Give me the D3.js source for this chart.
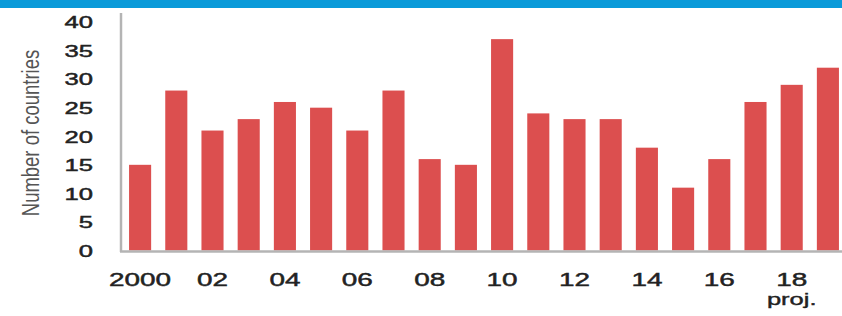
<!DOCTYPE html>
<html>
<head>
<meta charset="utf-8">
<script src="https://cdn.jsdelivr.net/npm/d3@7/dist/d3.min.js"></script>
<style>
  html, body { margin: 0; padding: 0; background: #fff; }
  svg { display: block; }
</style>
</head>
<body>
<svg id="chart" width="842" height="316"></svg>
<script>
const years = ["2000","2001","2002","2003","2004","2005","2006","2007","2008","2009",
               "2010","2011","2012","2013","2014","2015","2016","2017","2018","2019"];
const counts = [15, 28, 21, 23, 26, 25, 21, 28, 16, 15, 37, 24, 23, 23, 18, 11, 16, 26, 29, 32];
const xTickLabels = {"2000":"2000","2002":"02","2004":"04","2006":"06","2008":"08",
                     "2010":"10","2012":"12","2014":"14","2016":"16","2018":"18"};
const yTicks = [0, 5, 10, 15, 20, 25, 30, 35, 40];
const yTitle = "Number of countries";
const projNote = "proj.";

const svg = d3.select("#chart");
const W = 842, H = 316;

// top blue band
svg.append("rect").attr("x", 0).attr("y", 0).attr("width", W).attr("height", 8)
  .attr("fill", "#0a9ad9");

const x = d3.scaleBand().domain(years).range([122, 846])
  .paddingInner(0.39).paddingOuter(0.195);
const y = d3.scaleLinear().domain([0, 40]).range([250.5, 22]);

// bars
svg.append("g").selectAll("rect").data(years).join("rect")
  .attr("x", d => x(d))
  .attr("y", (d, i) => y(counts[i]))
  .attr("width", x.bandwidth())
  .attr("height", (d, i) => y(0) - y(counts[i]))
  .attr("fill", "#dc4f4f");

// axes lines
svg.append("line").attr("x1", 121).attr("x2", 121).attr("y1", 13).attr("y2", 252)
  .attr("stroke", "#b4b4b4").attr("stroke-width", 2.5);
svg.append("line").attr("x1", 120).attr("x2", W).attr("y1", 251.5).attr("y2", 251.5)
  .attr("stroke", "#b4b4b4").attr("stroke-width", 2.5);

const font = "'Liberation Sans', Arial, sans-serif";

// y tick labels (via axis generator, then styled)
const yAxis = d3.axisLeft(y).tickValues(yTicks).tickSize(0).tickPadding(0);
const yg = svg.append("g").attr("transform", "translate(93,0)").call(yAxis);
yg.select(".domain").remove();
yg.selectAll(".tick text")
  .attr("x", 0).attr("dy", "0.36em")
  .attr("text-anchor", "end")
  .attr("transform", "scale(1.6,1)")
  .style("font-family", font).style("font-size", "16px")
  .attr("fill", "#222").attr("stroke", "#222").attr("stroke-width", 0.45);

// x tick labels
const xAxis = d3.axisBottom(x).tickValues(Object.keys(xTickLabels))
  .tickFormat(d => xTickLabels[d]).tickSize(0).tickPadding(0);
const xg = svg.append("g").attr("transform", "translate(0,286)").call(xAxis);
xg.select(".domain").remove();
xg.selectAll(".tick text")
  .attr("y", 0).attr("dy", 0)
  .attr("transform", "scale(1.55,1)")
  .style("font-family", font).style("font-size", "18px")
  .attr("fill", "#222").attr("stroke", "#222").attr("stroke-width", 0.45);

// proj. note
svg.append("text")
  .attr("transform", `translate(${x("2018") + x.bandwidth()/2},305) scale(1.5,1)`)
  .attr("text-anchor", "middle")
  .style("font-family", font).style("font-size", "17px")
  .attr("fill", "#222").attr("stroke", "#222").attr("stroke-width", 0.4)
  .text(projNote);

// y title
svg.append("text")
  .attr("transform", "translate(39,133) scale(1.3,1) rotate(-90)")
  .attr("text-anchor", "middle")
  .style("font-family", font).style("font-size", "18.5px")
  .attr("fill", "#555")
  .text(yTitle);
</script>
</body>
</html>
